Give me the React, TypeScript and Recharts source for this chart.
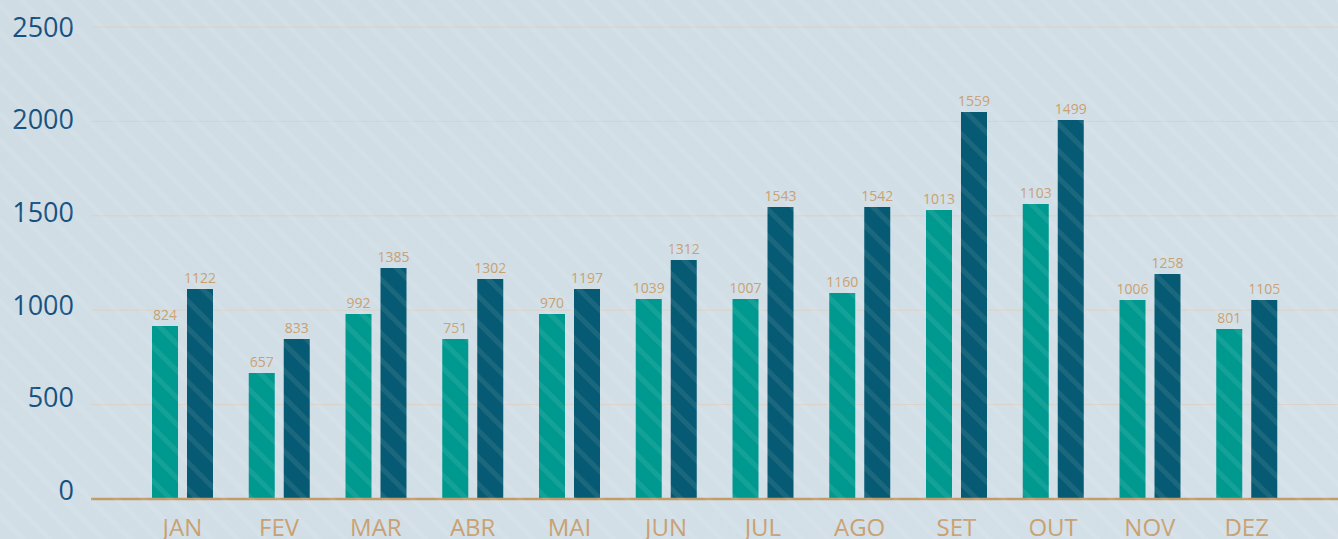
import React from 'react';
import { BarChart, Bar, XAxis, YAxis, CartesianGrid, LabelList } from 'recharts';

const months = ['JAN', 'FEV', 'MAR', 'ABR', 'MAI', 'JUN', 'JUL', 'AGO', 'SET', 'OUT', 'NOV', 'DEZ'];
// bar heights as drawn in the picture
const tealBars = [916, 667, 980, 847, 980, 1059, 1059, 1091, 1531, 1562, 1054, 900];
const darkBars = [1112, 847, 1223, 1165, 1112, 1266, 1547, 1547, 2050, 2007, 1192, 1054];
// printed value labels
const tealLabels = [824, 657, 992, 751, 970, 1039, 1007, 1160, 1013, 1103, 1006, 801];
const darkLabels = [1122, 833, 1385, 1302, 1197, 1312, 1543, 1542, 1559, 1499, 1258, 1105];
const yTicks = [0, 500, 1000, 1500, 2000, 2500];

const data = months.map((m, i) => ({
  month: m,
  teal: tealBars[i],
  dark: darkBars[i],
  tealLabel: tealLabels[i],
  darkLabel: darkLabels[i],
}));

const FONT = '"Open Sans", "Noto Sans", sans-serif';

const YTick = (props: any) => {
  const { x, y, payload } = props;
  const v = payload.value as number;
  const shift = -9 + (v / 2500) * 9;
  return (
    <text x={x} y={y + shift} dy="0.36em" textAnchor="end" fill="#15507f" fontSize={27} fontFamily={FONT}>
      {v}
    </text>
  );
};

export default function App() {
  return (
    <div
      style={{
        position: 'absolute',
        left: 0,
        top: 0,
        width: 1338,
        height: 539,
        overflow: 'hidden',
        background: 'linear-gradient(160deg, #cfdce4 0%, #d1dee6 45%, #d4e0e8 100%)',
      }}
    >
      <BarChart
        width={1338}
        height={539}
        data={data}
        margin={{ top: 27, right: 0, bottom: 0, left: 0 }}
        barSize={26}
        barGap={9}
      >
        <CartesianGrid horizontal vertical={false} stroke="#dcd1c6" strokeWidth={1} />
        <XAxis
          dataKey="month"
          height={40}
          padding={{ left: 43, right: 43 }}
          axisLine={{ stroke: '#c49a68', strokeWidth: 2.5 }}
          tickLine={false}
          tickSize={0}
          tickMargin={20}
          tick={{ fill: '#c9a070', fontSize: 24, fontFamily: FONT }}
          interval={0}
        />
        <YAxis
          width={91}
          domain={[0, 2500]}
          ticks={yTicks}
          axisLine={false}
          tickLine={false}
          tickSize={0}
          tickMargin={17}
          tick={<YTick />}
          interval={0}
        />
        <Bar dataKey="teal" fill="#00998f" isAnimationActive={false}>
          <LabelList dataKey="tealLabel" position="top" offset={6} fill="#c9a070" fontSize={14} fontFamily={FONT} />
        </Bar>
        <Bar dataKey="dark" fill="#075a73" isAnimationActive={false}>
          <LabelList dataKey="darkLabel" position="top" offset={6} fill="#c9a070" fontSize={14} fontFamily={FONT} />
        </Bar>
      </BarChart>
      <div
        style={{
          position: 'absolute',
          left: 0,
          top: 0,
          width: 1338,
          height: 539,
          pointerEvents: 'none',
          background:
            'repeating-linear-gradient(45deg, rgba(255,255,255,0) 0px, rgba(255,255,255,0) 13px, rgba(255,255,255,0.08) 14px, rgba(255,255,255,0.08) 18px, rgba(255,255,255,0) 19px)',
        }}
      />
    </div>
  );
}
